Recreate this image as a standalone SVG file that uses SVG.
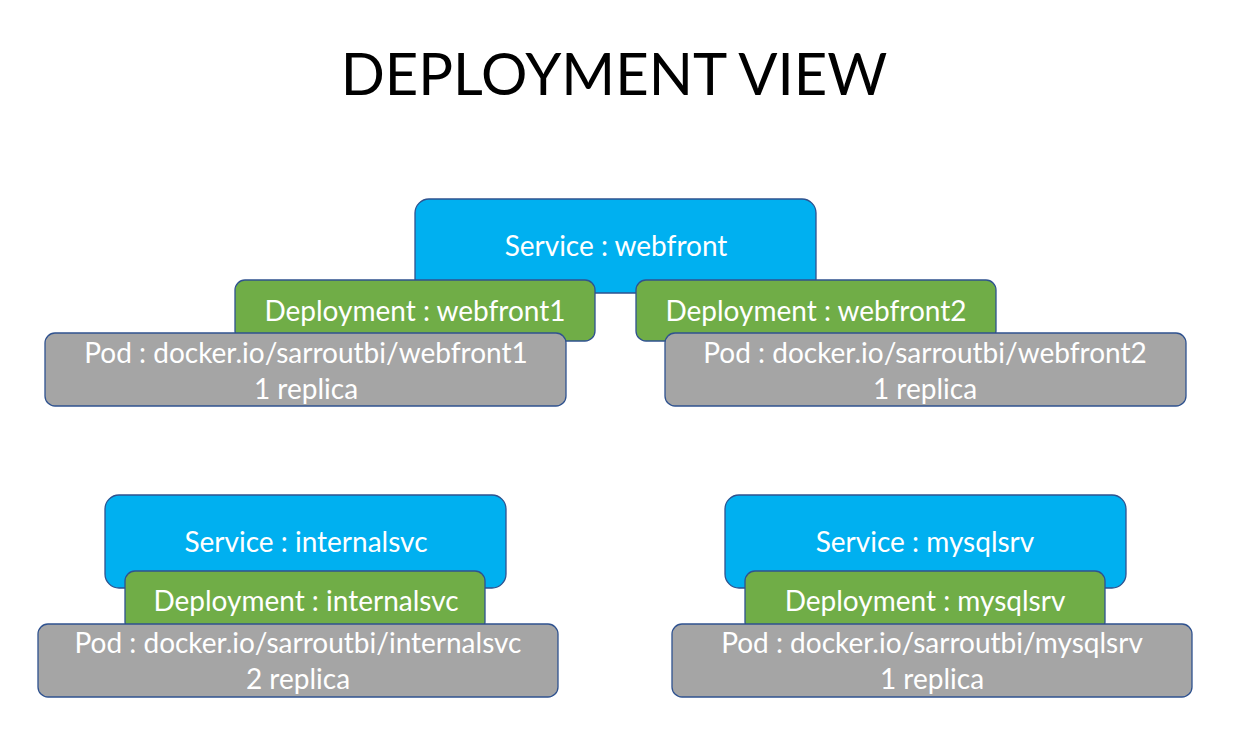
<svg xmlns="http://www.w3.org/2000/svg" width="1239" height="730" viewBox="0 0 1239 730">
<style>
.svc{fill:#00B0F0;stroke:#2F528F;stroke-width:1.3}
.dep{fill:#70AD47;stroke:#2F528F;stroke-width:1.3}
.pod{fill:#A5A5A5;stroke:#2F528F;stroke-width:1.3}
.t{font-family:Lato,"Open Sans",sans-serif;font-size:28px;fill:#FFFFFF;text-anchor:middle}
.title{font-family:Lato,"Open Sans",sans-serif;font-size:58px;fill:#000000;text-anchor:middle}
</style>
<rect width="1239" height="730" fill="#FFFFFF"/>
<text class="title" x="614" y="95">DEPLOYMENT VIEW</text>
<g id="connectors"></g>
<g id="svc-webfront"><rect class="svc" x="415" y="199" width="401" height="94" rx="14"/><text class="t" x="616" y="256">Service : webfront</text></g>
<g id="dep-webfront1"><rect class="dep" x="235" y="280" width="360" height="61" rx="10"/><text class="t" x="415" y="321">Deployment : webfront1</text></g>
<g id="dep-webfront2"><rect class="dep" x="636" y="280" width="360" height="61" rx="10"/><text class="t" x="816" y="321">Deployment : webfront2</text></g>
<g id="pod-webfront1"><rect class="pod" x="45" y="333" width="521" height="73" rx="10"/><text class="t" x="306" y="363">Pod : docker.io/sarroutbi/webfront1</text><text class="t" x="306" y="399">1 replica</text></g>
<g id="pod-webfront2"><rect class="pod" x="665" y="333" width="521" height="73" rx="10"/><text class="t" x="925" y="363">Pod : docker.io/sarroutbi/webfront2</text><text class="t" x="925" y="399">1 replica</text></g>
<g id="svc-internalsvc"><rect class="svc" x="105" y="495" width="401" height="93" rx="14"/><text class="t" x="306" y="552">Service : internalsvc</text></g>
<g id="dep-internalsvc"><rect class="dep" x="125" y="571" width="360" height="61" rx="10"/><text class="t" x="306" y="611">Deployment : internalsvc</text></g>
<g id="pod-internalsvc"><rect class="pod" x="38" y="624" width="520" height="73" rx="10"/><text class="t" x="298" y="653">Pod : docker.io/sarroutbi/internalsvc</text><text class="t" x="298" y="689">2 replica</text></g>
<g id="svc-mysqlsrv"><rect class="svc" x="725" y="495" width="401" height="93" rx="14"/><text class="t" x="925" y="552">Service : mysqlsrv</text></g>
<g id="dep-mysqlsrv"><rect class="dep" x="745" y="571" width="360" height="61" rx="10"/><text class="t" x="925" y="611">Deployment : mysqlsrv</text></g>
<g id="pod-mysqlsrv"><rect class="pod" x="672" y="624" width="520" height="73" rx="10"/><text class="t" x="932" y="653">Pod : docker.io/sarroutbi/mysqlsrv</text><text class="t" x="932" y="689">1 replica</text></g>
</svg>
